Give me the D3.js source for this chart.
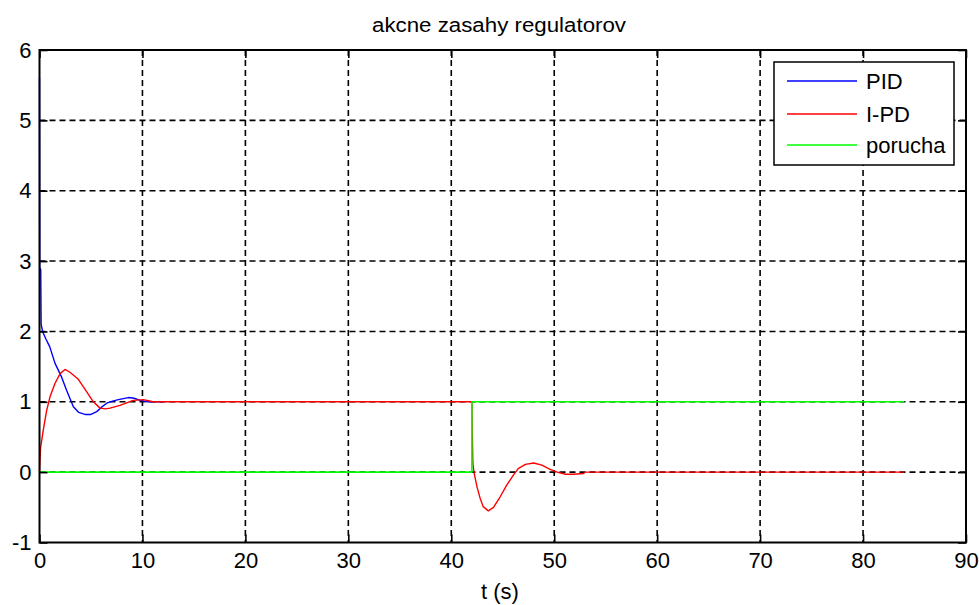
<!DOCTYPE html>
<html>
<head>
<meta charset="utf-8">
<script src="https://cdn.jsdelivr.net/npm/d3@7"></script>
<style>
  html, body { margin: 0; padding: 0; background: #fff; }
  svg { display: block; }
  text { font-family: "Liberation Sans", Arial, sans-serif; fill: #000; }
</style>
</head>
<body>
<svg id="chart" width="979" height="605"></svg>
<script>
// ---- data ----
const titleText = "akcne zasahy regulatorov";
const xLabelText = "t (s)";
const xTicks = [0, 10, 20, 30, 40, 50, 60, 70, 80, 90];
const yTicks = [-1, 0, 1, 2, 3, 4, 5, 6];
const seriesNames = ["PID", "I-PD", "porucha"];
const seriesColors = ["#0000ff", "#ff0000", "#00ff00"];

const pidT = [0, 0.02, 0.12, 0.16, 0.3, 0.6, 1.0, 1.5, 2.15, 2.64, 3.29, 3.8, 4.42, 5.0, 5.56, 6.0, 6.53, 7.1, 7.66, 8.63, 9.2, 9.77, 10.5, 12];
const pidV = [5.6, 2.9, 2.88, 2.1, 2.0, 1.9, 1.78, 1.55, 1.35, 1.16, 0.93, 0.85, 0.82, 0.82, 0.86, 0.92, 0.98, 1.01, 1.03, 1.06, 1.05, 1.02, 1.0, 1.0];

const ipdT = [0, 0.05, 0.1, 0.37, 0.7, 1.02, 1.5, 2.0, 2.48, 2.96, 3.77, 4.59, 5.23, 5.88, 6.4, 6.85, 7.82, 9.1, 10.1, 11, 12, 42, 42.05, 42.1, 42.2, 42.5, 42.8, 43.1, 43.6, 44.1, 44.75, 45.4, 46.05, 46.5, 47.2, 48.0, 48.8, 49.6, 50.3, 51.1, 51.9, 52.85, 53.0, 84];
const ipdV = [0, 0.17, 0.34, 0.6, 0.88, 1.07, 1.26, 1.40, 1.46, 1.42, 1.32, 1.14, 1.0, 0.91, 0.90, 0.91, 0.95, 1.02, 1.03, 1.0, 1.0, 1.0, 0.48, 0.12, 0.0, -0.21, -0.37, -0.49, -0.55, -0.50, -0.35, -0.18, -0.04, 0.05, 0.11, 0.13, 0.10, 0.04, 0.0, -0.03, -0.03, -0.02, 0.0, 0];

const porT = [0, 42, 42, 84];
const porV = [0, 0, 1, 1];

// ---- layout ----
const svg = d3.select("#chart");
const L = 39.5, R = 966, T = 50, B = 542.5;
const x = d3.scaleLinear().domain([0, 90]).range([L, R]);
const y = d3.scaleLinear().domain([-1, 6]).range([B, T]);

// grid
const grid = svg.append("g");
grid.selectAll("line.gx").data(xTicks.slice(1, -1)).join("line")
  .attr("x1", d => x(d)).attr("x2", d => x(d)).attr("y1", T).attr("y2", B)
  .attr("stroke", "#000").attr("stroke-width", 1.6).attr("stroke-dasharray", "6,4");
grid.selectAll("line.gy").data(yTicks.slice(1, -1)).join("line")
  .attr("y1", d => y(d)).attr("y2", d => y(d)).attr("x1", L).attr("x2", R)
  .attr("stroke", "#000").attr("stroke-width", 1.6).attr("stroke-dasharray", "6,4");

// series
const series = [
  pidT.map((t, i) => [t, pidV[i]]),
  ipdT.map((t, i) => [t, ipdV[i]]),
  porT.map((t, i) => [t, porV[i]])
];
const line = d3.line().x(d => x(d[0])).y(d => y(d[1]));
series.forEach((s, i) => {
  svg.append("path").datum(s).attr("d", line)
    .attr("fill", "none").attr("stroke", seriesColors[i])
    .attr("stroke-width", i === 2 ? 1.6 : 1.4).attr("stroke-linejoin", "round");
});

// axes (MATLAB-like, ticks inward on all sides)
const tl = 8;
const fmt = d => String(d);
const axB = svg.append("g").attr("transform", `translate(0,${B})`)
  .call(d3.axisBottom(x).tickValues(xTicks).tickSize(-tl).tickPadding(10).tickFormat(fmt));
const axT = svg.append("g").attr("transform", `translate(0,${T})`)
  .call(d3.axisTop(x).tickValues(xTicks).tickSize(-tl).tickFormat(""));
const axL = svg.append("g").attr("transform", `translate(${L},0)`)
  .call(d3.axisLeft(y).tickValues(yTicks).tickSize(-tl).tickPadding(8).tickFormat(fmt));
const axR = svg.append("g").attr("transform", `translate(${R},0)`)
  .call(d3.axisRight(y).tickValues(yTicks).tickSize(-tl).tickFormat(""));
[axB, axT, axL, axR].forEach(a => {
  a.select(".domain").remove();
  a.selectAll(".tick line").attr("stroke", "#000").attr("stroke-width", 1.6);
  a.selectAll("text").attr("font-size", 22).attr("font-family", "Liberation Sans, Arial, sans-serif").attr("fill", "#000");
});
svg.append("rect").attr("x", L).attr("y", T).attr("width", R - L).attr("height", B - T)
  .attr("fill", "none").attr("stroke", "#000").attr("stroke-width", 2);

// title & label
svg.append("text").attr("x", 499).attr("y", 32).attr("text-anchor", "middle")
  .attr("font-size", 20).attr("textLength", 254).attr("lengthAdjust", "spacingAndGlyphs").text(titleText);
svg.append("text").attr("x", 500).attr("y", 599).attr("text-anchor", "middle")
  .attr("font-size", 22).text(xLabelText);

// legend
const lg = svg.append("g");
lg.append("rect").attr("x", 774).attr("y", 62).attr("width", 180).attr("height", 103)
  .attr("fill", "#fff").attr("stroke", "#000").attr("stroke-width", 1.5);
const rowY = [81, 114, 145];
seriesNames.forEach((n, i) => {
  lg.append("line").attr("x1", 787).attr("x2", 857).attr("y1", rowY[i]).attr("y2", rowY[i])
    .attr("stroke", seriesColors[i]).attr("stroke-width", 1.5);
  lg.append("text").attr("x", 866).attr("y", rowY[i] + 8).attr("font-size", 22).text(n);
});
</script>
</body>
</html>
